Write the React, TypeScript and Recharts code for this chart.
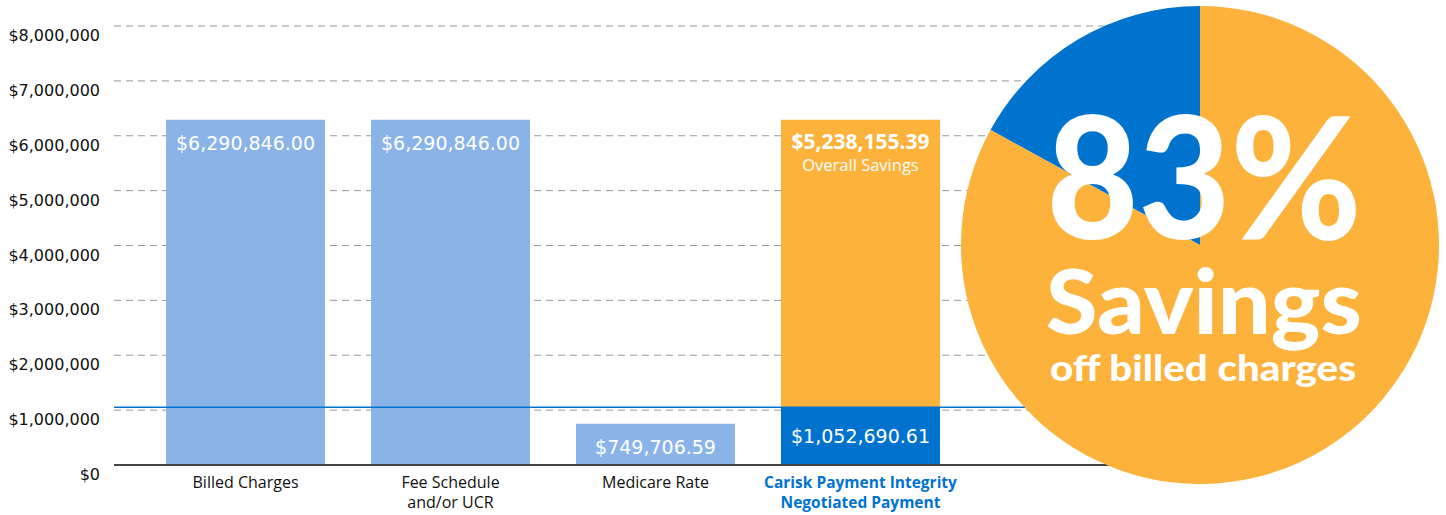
import React from 'react';
import { BarChart, Bar, XAxis, YAxis, CartesianGrid, ReferenceLine, LabelList, Cell, PieChart, Pie } from 'recharts';

const categories = ['Billed Charges', 'Fee Schedule\nand/or UCR', 'Medicare Rate', 'Carisk Payment Integrity\nNegotiated Payment'];
const paidValues = [6290846.0, 6290846.0, 749706.59, 1052690.61];
const savingsValues = [0, 0, 0, 5238155.39];
const yTicks = [0, 1000000, 2000000, 3000000, 4000000, 5000000, 6000000, 7000000, 8000000];
const pieNames = ['Savings', 'Paid'];
const pieValues = [83, 17];

const LIGHT = '#8AB4E8';
const BLUE = '#0073CF';
const ORANGE = '#FDB23B';
const FONT = '"Open Sans", sans-serif';
const WIDE = '"DejaVu Sans", sans-serif';

const data = categories.map((c, i) => ({ name: c, paid: paidValues[i], savings: savingsValues[i] }));
const pieData = pieNames.map((n, i) => ({ name: n, value: pieValues[i] }));

const money = (v: number) => '$' + v.toLocaleString('en-US', { minimumFractionDigits: 2, maximumFractionDigits: 2 });

const YTick = (props: any) => {
  const { y, payload } = props;
  return (
    <text x={100} y={y + 15} textAnchor="end" fontSize={16} fill="#111" fontFamily={WIDE}>
      {'$' + payload.value.toLocaleString('en-US')}
    </text>
  );
};

const XTick = (props: any) => {
  const { x, y, payload } = props;
  const lines = String(payload.value).split('\n');
  const last = payload.index === categories.length - 1;
  return (
    <text x={x} y={y} textAnchor="middle" fontSize={last ? 15.5 : 16} fontFamily={FONT}
      fill={last ? BLUE : '#111'} fontWeight={last ? 700 : 400}>
      {lines.map((l, i) => (
        <tspan key={i} x={x} dy={i === 0 ? 15 : 20}>{l}</tspan>
      ))}
    </text>
  );
};

const PaidLabel = (props: any) => {
  const { x, y, width, height, value, index } = props;
  const stacked = savingsValues[index] > 0;
  const ty = stacked ? y + height / 2 + 7 : y + 30;
  return (
    <text x={x + width / 2} y={ty} textAnchor="middle" fill="#fff" fontSize={19} fontFamily={WIDE}>
      {money(value)}
    </text>
  );
};

const SavingsLabel = (props: any) => {
  const { x, y, width, value } = props;
  if (!value) return null;
  return (
    <g>
      <text x={x + width / 2} y={y + 29} textAnchor="middle" fill="#fff" fontSize={21} fontWeight={700} fontFamily={FONT}>
        {money(value)}
      </text>
      <text x={x + width / 2} y={y + 51} textAnchor="middle" fill="#fff" fontSize={16.5} fontFamily={FONT}>
        Overall Savings
      </text>
    </g>
  );
};

export default function App() {
  const f = 'Lato, "Open Sans", sans-serif';
  return (
    <div style={{ position: 'fixed', left: 0, top: 0, width: 1446, height: 515, background: '#fff' }}>
      <BarChart width={1446} height={515} data={data} margin={{ top: 26, right: 336, bottom: 0, left: 0 }} barSize={159}>
        <CartesianGrid vertical={false} stroke="#999" strokeDasharray="7 5" />
        <YAxis domain={[0, 8000000]} ticks={yTicks} width={114} axisLine={false} tickLine={false} tick={<YTick />} interval={0} />
        <XAxis dataKey="name" height={50} padding={{ left: 29, right: 147 }} axisLine={{ stroke: '#444', strokeWidth: 2 }}
          tickLine={false} tick={<XTick />} interval={0} />
        <ReferenceLine y={1052690.61} stroke={BLUE} strokeWidth={1.5} />
        <Bar dataKey="paid" stackId="a" isAnimationActive={false}>
          {data.map((d, i) => (
            <Cell key={i} fill={i === data.length - 1 ? BLUE : LIGHT} />
          ))}
          <LabelList dataKey="paid" content={<PaidLabel />} />
        </Bar>
        <Bar dataKey="savings" stackId="a" fill={ORANGE} isAnimationActive={false}>
          <LabelList dataKey="savings" content={<SavingsLabel />} />
        </Bar>
      </BarChart>
      <div style={{ position: 'absolute', left: 950, top: -5 }}>
        <PieChart width={500} height={500} margin={{ top: 0, right: 0, bottom: 0, left: 0 }}>
          <Pie data={pieData} dataKey="value" nameKey="name" cx={250} cy={250} outerRadius={239}
            startAngle={90} endAngle={-270} stroke="none" isAnimationActive={false}>
            <Cell fill={ORANGE} />
            <Cell fill={BLUE} />
          </Pie>
        </PieChart>
      </div>
      <svg width={1446} height={515} style={{ position: 'absolute', left: 0, top: 0, pointerEvents: 'none' }}>
        <g fill="#fff" fontFamily={f} fontWeight={900} textAnchor="middle">
          <text x={1204} y={239} fontSize={170} textLength={315} lengthAdjust="spacingAndGlyphs">83%</text>
          <text x={1204} y={334} fontSize={89} textLength={316} lengthAdjust="spacingAndGlyphs">Savings</text>
          <text x={1203} y={381} fontSize={36} textLength={306} lengthAdjust="spacingAndGlyphs">off billed charges</text>
        </g>
      </svg>
    </div>
  );
}
